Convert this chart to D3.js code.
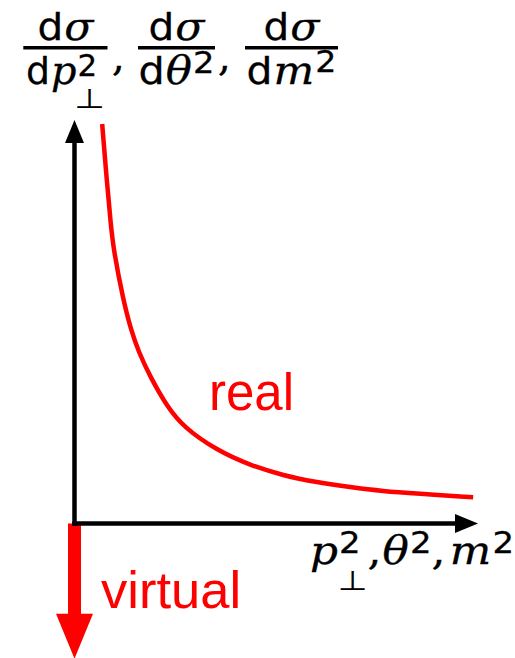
<!DOCTYPE html>
<html><head><meta charset="utf-8">
<script src="https://cdn.jsdelivr.net/npm/d3@7"></script>
<style>html,body{margin:0;padding:0;background:#fff;}svg{display:block}</style>
</head><body>
<svg id="c" width="515" height="658"></svg>
<script>
// ---- data ----
const xDomain = [0, 10];
const yDomain = [0, 10];
const realX = [0.686, 0.80, 0.90, 0.97, 1.21, 1.40, 1.59, 1.88, 2.30, 2.70, 3.53, 4.36, 5.17, 6.01, 6.83, 7.65, 8.48, 9.88];
const realY = [9.90, 8.50, 7.40, 6.77, 5.53, 4.80, 4.25, 3.63, 2.89, 2.39, 1.81, 1.44, 1.19, 1.02, 0.90, 0.80, 0.74, 0.65];
const virtualValue = [0, -3.35];
const seriesLabels = ["real", "virtual"];

const RED = "#ff0000";
const SANS = "Liberation Sans, Arial, sans-serif";
const DSANS = "DejaVu Sans, sans-serif";
const DSERIF = "DejaVu Serif, serif";

const svg = d3.select("#c");
const x = d3.scaleLinear().domain(xDomain).range([74.5, 478]);
const y = d3.scaleLinear().domain(yDomain).range([523.5, 120]);

// virtual arrow (drawn under axes)
const vx = x(0), vTop = y(virtualValue[0]), vTip = y(virtualValue[1]);
const headLen = 45, headHalf = 18.5, shaftHalf = 6.5;
svg.append("path")
  .attr("d", `M${vx-shaftHalf},${vTop} L${vx+shaftHalf},${vTop} L${vx+shaftHalf},${vTip-headLen} L${vx+headHalf},${vTip-headLen} L${vx},${vTip} L${vx-headHalf},${vTip-headLen} L${vx-shaftHalf},${vTip-headLen} Z`)
  .attr("fill", RED);

// real curve
const pts = realX.map((d, i) => [d, realY[i]]);
svg.append("path")
  .datum(pts)
  .attr("d", d3.line().x(d => x(d[0])).y(d => y(d[1])).curve(d3.curveBasis))
  .attr("fill", "none").attr("stroke", RED).attr("stroke-width", 4.5);

// axes with arrowheads
const aw = 4.5, ah = 23, ahw = 9.5;
const x0 = x(xDomain[0]), x1 = x(xDomain[1]), y0 = y(yDomain[0]), y1 = y(yDomain[1]);
svg.append("line").attr("x1", x0).attr("x2", x0).attr("y1", y0 + aw/2).attr("y2", y1 + ah - 1)
  .attr("stroke", "#000").attr("stroke-width", aw);
svg.append("path").attr("d", `M${x0},${y1} L${x0+ahw},${y1+ah} L${x0-ahw},${y1+ah} Z`).attr("fill", "#000");
svg.append("line").attr("x1", x0 - aw/2).attr("x2", x1 - ah + 1).attr("y1", y0).attr("y2", y0)
  .attr("stroke", "#000").attr("stroke-width", aw);
svg.append("path").attr("d", `M${x1},${y0} L${x1-ah},${y0-ahw} L${x1-ah},${y0+ahw} Z`).attr("fill", "#000");

// series labels
svg.append("text").attr("x", 209).attr("y", 410).attr("font-family", SANS).attr("font-size", 51)
  .attr("fill", RED).text(seriesLabels[0]);
svg.append("text").attr("x", 101).attr("y", 608).attr("font-family", SANS).attr("font-size", 52.5)
  .attr("fill", RED).text(seriesLabels[1]);

// ---- math text helpers ----
function addText(g, r, px, py) {
  const t = g.append("text")
    .attr("font-family", r.font).attr("font-size", r.size)
    .attr("font-style", r.italic ? "italic" : "normal").attr("fill", "#000")
    .attr("stroke", "#000").attr("stroke-width", r.bold == null ? 0.3 : r.bold)
    .text(r.t);
  const sx = r.sx || 1;
  t.attr("transform", `translate(${px},${py + (r.dy || 0)}) scale(${sx},1)`);
  return t.node().getComputedTextLength() * sx;
}
function drawRuns(g, runs) {
  let cx = 0;
  runs.forEach(r => {
    if (r.stack) {
      let w = 0;
      r.stack.forEach(s => { w = Math.max(w, (s.dx || 0) + addText(g, s, cx + (s.dx || 0), 0)); });
      cx += w + (r.after || 0);
    } else {
      cx += (r.before || 0);
      cx += addText(g, r, cx, 0) + (r.after || 0);
    }
  });
  return cx;
}
function placeRuns(runs, left, base, target, centre) {
  const g = svg.append("g");
  const w = drawRuns(g, runs);
  const sx = target / w;
  const lx = centre ? left - target / 2 : left;
  g.attr("transform", `translate(${lx},${base}) scale(${sx},1)`);
}
function fraction(bx0, bx1, barY, numBase, denBase, num, numW, den, denW) {
  svg.append("line").attr("x1", bx0).attr("x2", bx1).attr("y1", barY).attr("y2", barY)
    .attr("stroke", "#000").attr("stroke-width", 3.5);
  placeRuns(num, (bx0 + bx1) / 2, numBase, numW, true);
  placeRuns(den, (bx0 + bx1) / 2, denBase, denW, true);
}

const FS = 40, DS = 38, SS = 31;
const dRun = {t: "d", font: DSANS, size: DS, after: 1};
const numer = [dRun, {t: "σ", font: DSERIF, size: FS, italic: true}];
const perpSym = "⊥";
fraction(23.3, 107.5, 47.8, 40, 84, numer, 56,
  [dRun, {t: "p", font: DSERIF, size: FS, italic: true, after: 1},
   {stack: [{t: "2", font: DSANS, size: SS, dy: -8},
            {t: perpSym, font: DSANS, size: 27, sx: 1.3, dx: -3, dy: 24, bold: 0.15}]}], 79);
fraction(138, 215, 47.8, 40, 84, numer, 56,
  [dRun, {t: "θ", font: DSERIF, size: FS, italic: true, after: 1},
   {t: "2", font: DSANS, size: SS, dy: -11}], 76);
fraction(245, 338, 47.8, 40, 84, numer, 56,
  [dRun, {t: "m", font: DSERIF, size: FS, italic: true, after: 1},
   {t: "2", font: DSANS, size: SS, dy: -12}], 90);
[[112, 70], [218, 70]].forEach(([cx, cy]) =>
  svg.append("text").attr("x", cx).attr("y", cy).attr("font-family", DSERIF).attr("font-size", 40)
    .attr("stroke", "#000").attr("stroke-width", 0.4).text(","));

// x-axis label
const xsup = {t: "2", font: DSANS, size: SS, dy: -11};
placeRuns([
  {t: "p", font: DSERIF, size: FS, italic: true, after: 1},
  {stack: [xsup, {t: perpSym, font: DSANS, size: 27, sx: 1.15, dx: -1, dy: 26, bold: 0.15}], after: 0},
  {t: ",", font: DSERIF, size: FS, after: 1},
  {t: "θ", font: DSERIF, size: FS, italic: true, after: 1},
  xsup,
  {t: ",", font: DSERIF, size: FS, after: 4},
  {t: "m", font: DSERIF, size: FS, italic: true, after: 1},
  xsup
], 310, 564, 204, false);
</script>
</body></html>
